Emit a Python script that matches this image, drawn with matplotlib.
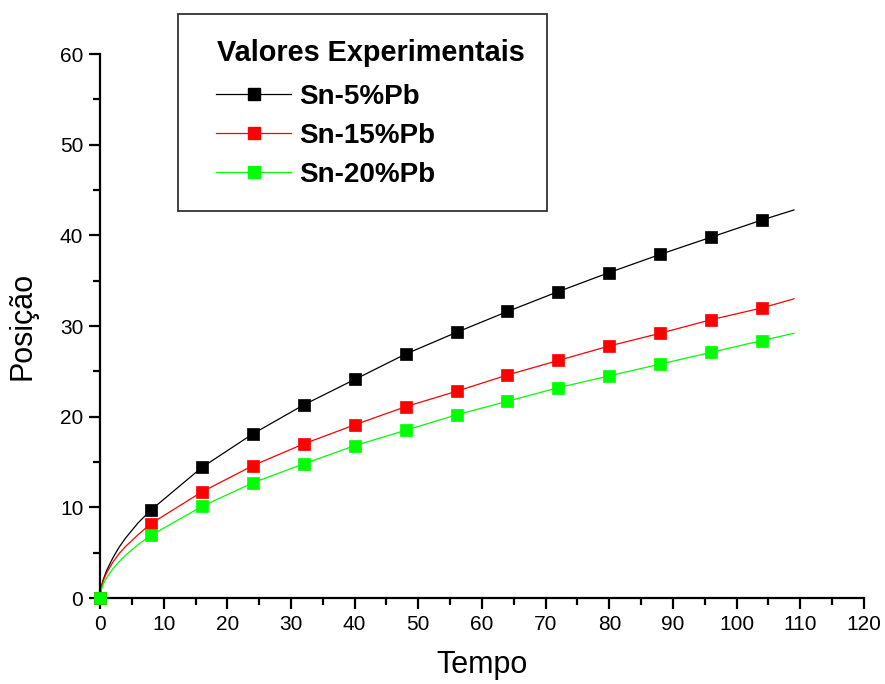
import numpy as np
import matplotlib.pyplot as plt
from matplotlib.patches import Rectangle
from matplotlib.ticker import MultipleLocator

plt.rcParams['font.family'] = ['Liberation Sans', 'DejaVu Sans']

# experimental points
tempo = [0, 8, 16, 24, 32, 40, 48, 56, 64, 72, 80, 88, 96, 104]
sn5 = [0, 9.7, 14.4, 18.1, 21.3, 24.1, 26.9, 29.3, 31.6, 33.8, 35.9, 37.9, 39.8, 41.7]
sn15 = [0, 8.2, 11.7, 14.6, 17.0, 19.1, 21.1, 22.8, 24.6, 26.2, 27.8, 29.2, 30.7, 32.0]
sn20 = [0, 6.9, 10.1, 12.7, 14.8, 16.8, 18.5, 20.2, 21.7, 23.2, 24.5, 25.8, 27.1, 28.4]

# fitted curves
t_fit = [0, 0.25, 0.5, 1, 2, 3, 4, 6, 8, 16, 24, 32, 40, 48, 56, 64, 72, 80, 88, 96, 104, 109]
fit5 = [0, 1.35, 2.0, 2.97, 4.4, 5.6, 6.6, 8.3, 9.7, 14.4, 18.1, 21.3, 24.1, 26.9, 29.3, 31.6,
        33.8, 35.9, 37.9, 39.8, 41.7, 42.8]
fit15 = [0, 1.3, 1.88, 2.72, 3.93, 4.9, 5.67, 7.0, 8.2, 11.7, 14.6, 17.0, 19.1, 21.1, 22.8, 24.6,
         26.2, 27.8, 29.2, 30.7, 32.0, 33.0]
fit20 = [0, 1.0, 1.5, 2.19, 3.2, 4.0, 4.7, 5.9, 6.9, 10.1, 12.7, 14.8, 16.8, 18.5, 20.2, 21.7,
         23.2, 24.5, 25.8, 27.1, 28.4, 29.2]

series = [
    ('Sn-5%Pb', sn5, fit5, 'black'),
    ('Sn-15%Pb', sn15, fit15, 'red'),
    ('Sn-20%Pb', sn20, fit20, '#00ff00'),
]

W, H = 885, 684
fig = plt.figure(figsize=(W / 100, H / 100), dpi=100)
ax = fig.add_axes([100 / W, 86 / H, 764 / W, 544 / H])

handles = []
for name, pts, fit, col in series:
    ax.plot(t_fit, fit, color=col, lw=0.9, zorder=2)
    ax.plot(tempo, pts, 's', color=col, ms=9, mec=col, mew=0.5, zorder=3, clip_on=False)
    h, = ax.plot([], [], color=col, lw=0.9, marker='s', ms=8, mec=col, label=name)
    handles.append(h)

ax.set_xlim(0, 120)
ax.set_ylim(0, 60)
ax.xaxis.set_major_locator(MultipleLocator(10))
ax.xaxis.set_minor_locator(MultipleLocator(5))
ax.yaxis.set_major_locator(MultipleLocator(10))
ax.yaxis.set_minor_locator(MultipleLocator(5))

for s in ['top', 'right']:
    ax.spines[s].set_visible(False)
for s in ['left', 'bottom']:
    ax.spines[s].set_linewidth(1.6)

ax.tick_params(which='major', direction='out', length=8, width=1.6, labelsize=15, pad=4)
ax.tick_params(which='minor', direction='out', length=5, width=1.6)

ax.set_xlabel('Tempo', fontsize=22, labelpad=12)
ax.set_ylabel('Posição', fontsize=22, labelpad=16)

# legend box drawn separately, title and entries placed inside it
fig.patches.append(Rectangle((178 / W, 1 - 211 / H), 369 / W, 197 / H,
                             transform=fig.transFigure, facecolor='white',
                             edgecolor='#333333', lw=1.3, zorder=5))
fig.text(217 / W, 1 - 53 / H, 'Valores Experimentais', fontsize=20.8,
         fontweight='bold', va='center', ha='left', zorder=7)
leg = fig.legend(handles=handles, loc='upper left',
                 bbox_to_anchor=(216 / W, 1 - 84 / H), frameon=False,
                 prop={'size': 20, 'weight': 'bold'},
                 handlelength=2.7, handletextpad=0.3, labelspacing=0.46,
                 borderpad=0, borderaxespad=0)
leg.set_zorder(6)

fig.savefig('out.png', dpi=100)
